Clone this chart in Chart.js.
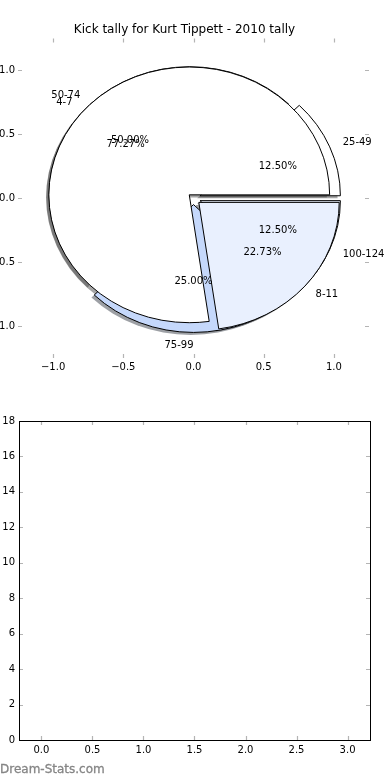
<!DOCTYPE html>
<html><head><meta charset="utf-8">
<script src="https://cdn.jsdelivr.net/npm/chart.js@4.4.0/dist/chart.umd.min.js"></script>
<style>
html,body{margin:0;padding:0;background:#fff;}
#wrap{position:relative;width:390px;height:780px;overflow:hidden;background:#fff;}
#c1{position:absolute;left:0;top:0;}
#c2{position:absolute;left:0;top:390px;}
#wm{position:absolute;left:0;top:762px;font:12px "DejaVu Sans",sans-serif;color:#858585;white-space:nowrap;-webkit-text-stroke:0.3px #858585;}
</style></head><body>
<div id="wrap">
<canvas id="c1" width="390" height="390"></canvas>
<canvas id="c2" width="390" height="390"></canvas>
<div id="wm">Dream-Stats.com</div>
</div>
<script>
// ---- data ----
const chartTitle = 'Kick tally for Kurt Tippett - 2010 tally';
const rangeLabels = ['25-49', '50-74', '75-99', '100-124'];
const rangeShares = [12.5, 50.0, 25.0, 12.5];
const kickLabels = ['4-7', '8-11'];
const kickShares = [77.27, 22.73];
const pieTicks = [-1.0, -0.5, 0.0, 0.5, 1.0];
const barXTicks = [0.0, 0.5, 1.0, 1.5, 2.0, 2.5, 3.0];
const barYTicks = [0, 2, 4, 6, 8, 10, 12, 14, 16, 18];

// ---- styles ----
const rangeColors = ['#ffffff', '#ffffff', '#c5d8fb', '#e9f0fe'];
const kickColors = ['#ffffff', '#e9f0fe'];
const rangeExplode = [0.05, 0.04, 0.05, 0.05];
const kickExplode = [0.04, 0.05];
const FONT = '"DejaVu Sans", sans-serif';

Chart.defaults.font.family = FONT;
Chart.defaults.font.size = 10;
Chart.defaults.color = '#000';

function fmt1(v) { return (v < 0 ? '\u2212' : '') + Math.abs(v).toFixed(1); }

function wedges(values, explode) {
  const total = values.reduce((a, b) => a + b, 0);
  let t = 0; const out = [];
  values.forEach((v, i) => {
    const t1 = t, t2 = t + 360 * v / total; t = t2;
    const tm = (t1 + t2) / 2 * Math.PI / 180;
    out.push({ t1, t2, tm, cx: explode[i] * Math.cos(tm), cy: explode[i] * Math.sin(tm), pct: 100 * v / total });
  });
  return out;
}

function wedgePath(ctx, xs, ys, w, dx, dy) {
  const px = xs.getPixelForValue(w.cx + dx), py = ys.getPixelForValue(w.cy + dy);
  const rx = xs.getPixelForValue(1) - xs.getPixelForValue(0);
  const ry = ys.getPixelForValue(0) - ys.getPixelForValue(1);
  ctx.beginPath();
  ctx.moveTo(px, py);
  ctx.ellipse(px, py, rx, ry, 0, -w.t1 * Math.PI / 180, -w.t2 * Math.PI / 180, true);
  ctx.closePath();
}

function shadowColor(hex) {
  const r = parseInt(hex.slice(1, 3), 16), g = parseInt(hex.slice(3, 5), 16), b = parseInt(hex.slice(5, 7), 16);
  return 'rgba(' + Math.round(r * 0.3) + ',' + Math.round(g * 0.3) + ',' + Math.round(b * 0.3) + ',0.5)';
}

const piePlugin = {
  id: 'pieOverlay',
  afterDatasetsDraw(chart) {
    const ctx = chart.ctx, xs = chart.scales.x, ys = chart.scales.y;
    const pies = [
      { w: wedges(rangeShares, rangeExplode), colors: rangeColors, labels: rangeLabels },
      { w: wedges(kickShares, kickExplode), colors: kickColors, labels: kickLabels }
    ];
    ctx.save();
    pies.forEach(p => p.w.forEach((w, i) => {
      wedgePath(ctx, xs, ys, w, -0.02, -0.02);
      ctx.fillStyle = shadowColor(p.colors[i]);
      ctx.fill();
    }));
    ctx.lineWidth = 1;
    ctx.strokeStyle = '#000';
    ctx.lineJoin = 'miter';
    pies.forEach(p => p.w.forEach((w, i) => {
      wedgePath(ctx, xs, ys, w, 0, 0);
      ctx.fillStyle = p.colors[i];
      ctx.fill();
      ctx.stroke();
    }));
    ctx.fillStyle = '#000';
    ctx.font = '10px ' + FONT;
    ctx.textBaseline = 'middle';
    pies.forEach(p => p.w.forEach((w, i) => {
      const lx = w.cx + 1.1 * Math.cos(w.tm), ly = w.cy + 1.1 * Math.sin(w.tm);
      ctx.textAlign = lx > 0 ? 'left' : 'right';
      ctx.fillText(p.labels[i], xs.getPixelForValue(lx), ys.getPixelForValue(ly));
      const qx = w.cx + 0.6 * Math.cos(w.tm), qy = w.cy + 0.6 * Math.sin(w.tm);
      ctx.textAlign = 'center';
      ctx.fillText(w.pct.toFixed(2) + '%', xs.getPixelForValue(qx), ys.getPixelForValue(qy));
    }));
    ctx.restore();
  }
};

function tickMarks(frame) {
  return {
    id: 'tickMarks',
    afterDraw(chart) {
      const ctx = chart.ctx, a = chart.chartArea, xs = chart.scales.x, ys = chart.scales.y;
      ctx.save();
      ctx.strokeStyle = '#b4b4b4';
      ctx.lineWidth = 1.2;
      const L = 4;
      xs.ticks.forEach(t => {
        const x = Math.round(xs.getPixelForValue(t.value)) + 0.5;
        ctx.beginPath();
        ctx.moveTo(x, a.top); ctx.lineTo(x, a.top + L);
        ctx.moveTo(x, a.bottom); ctx.lineTo(x, a.bottom - L);
        ctx.stroke();
      });
      ys.ticks.forEach(t => {
        const y = Math.round(ys.getPixelForValue(t.value)) + 0.5;
        ctx.beginPath();
        ctx.moveTo(a.left, y); ctx.lineTo(a.left + L, y);
        ctx.moveTo(a.right, y); ctx.lineTo(a.right - L, y);
        ctx.stroke();
      });
      if (frame) {
        ctx.strokeStyle = '#000';
        ctx.lineWidth = 1;
        ctx.strokeRect(Math.round(a.left) + 0.5, Math.round(a.top) + 0.5,
          Math.round(a.right - a.left), Math.round(a.bottom - a.top));
      }
      ctx.restore();
    }
  };
}

new Chart(document.getElementById('c1'), {
  type: 'scatter',
  data: { datasets: [] },
  options: {
    responsive: false, animation: false, events: [], devicePixelRatio: 1,
    layout: { padding: { top: 0, right: 21, bottom: 0, left: 0 } },
    plugins: {
      legend: { display: false }, tooltip: { enabled: false },
      title: { display: true, text: chartTitle, color: '#000',
        font: { size: 12, family: FONT, weight: 'normal' }, padding: { top: 23, bottom: 1 } }
    },
    scales: {
      x: { type: 'linear', min: -1.25, max: 1.25,
        afterBuildTicks: s => { s.ticks = pieTicks.map(v => ({ value: v })); },
        afterFit: s => { s.height = 32; },
        grid: { display: false, drawTicks: false }, border: { display: false },
        ticks: { padding: 3, maxRotation: 0, autoSkip: false, callback: v => fmt1(v) } },
      y: { type: 'linear', min: -1.25, max: 1.25,
        afterBuildTicks: s => { s.ticks = pieTicks.map(v => ({ value: v })); },
        afterFit: s => { s.width = 18; },
        grid: { display: false, drawTicks: false }, border: { display: false },
        ticks: { padding: 3, autoSkip: false, callback: v => fmt1(v) } }
    }
  },
  plugins: [piePlugin, tickMarks(false)]
});

new Chart(document.getElementById('c2'), {
  type: 'scatter',
  data: { datasets: [] },
  options: {
    responsive: false, animation: false, events: [], devicePixelRatio: 1,
    layout: { padding: { top: 31, right: 20, bottom: 0, left: 0 } },
    plugins: { legend: { display: false }, tooltip: { enabled: false } },
    scales: {
      x: { type: 'linear', min: -0.22, max: 3.22,
        afterBuildTicks: s => { s.ticks = barXTicks.map(v => ({ value: v })); },
        afterFit: s => { s.height = 40; },
        grid: { display: false, drawTicks: false }, border: { display: false },
        ticks: { padding: 4, maxRotation: 0, autoSkip: false, callback: v => fmt1(v) } },
      y: { type: 'linear', min: 0, max: 18,
        afterBuildTicks: s => { s.ticks = barYTicks.map(v => ({ value: v })); },
        afterFit: s => { s.width = 19; },
        grid: { display: false, drawTicks: false }, border: { display: false },
        ticks: { padding: 4, autoSkip: false, callback: v => String(v) } }
    }
  },
  plugins: [tickMarks(true)]
});
</script>
</body></html>
